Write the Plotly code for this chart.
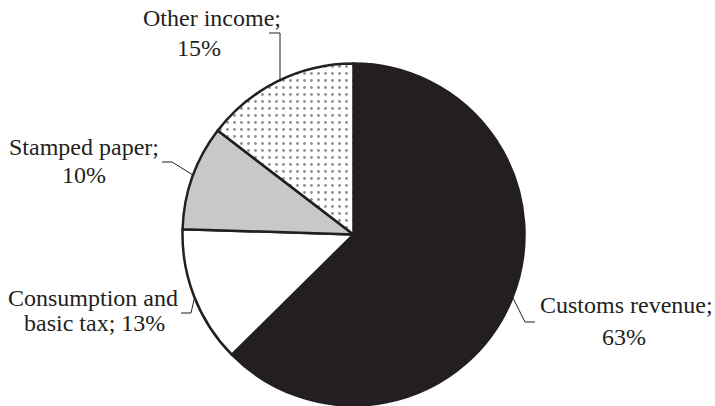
import plotly.graph_objects as go

W, H = 715, 406

categories = ["Customs revenue", "Consumption and basic tax", "Stamped paper", "Other income"]
shares = [62.6, 12.9, 9.9, 14.6]
label_lines = [
    ["Customs revenue;", "63%"],
    ["Consumption and", "basic tax; 13%"],
    ["Stamped paper;", "10%"],
    ["Other income;", "15%"],
]
colors = ["#231f20", "#ffffff", "#c8c8ca", "#ffffff"]
patterns = ["", "", "", "."]

def px(x, y):
    return x / W, 1 - y / H

fig = go.Figure(go.Pie(
    labels=categories,
    values=shares,
    sort=False,
    direction="clockwise",
    rotation=0,
    textinfo="none",
    hoverinfo="label+percent",
    marker=dict(
        colors=colors,
        line=dict(color="#231f20", width=2.5),
        pattern=dict(shape=patterns, fgcolor="#231f20", size=7, solidity=0.13, fillmode="overlay"),
    ),
    domain=dict(x=[(353.5 - 171) / W, (353.5 + 171) / W], y=[0.0, 1 - 63 / H]),
    showlegend=False,
))

label_pos = [
    [(626, 305), (624, 337)],
    [(93, 298), (94, 323)],
    [(84, 147), (84, 175)],
    [(212, 18), (199, 48)],
]
FONT = "Liberation Serif, 'Times New Roman', Times, serif"
annotations = []
for lines, poss in zip(label_lines, label_pos):
    for t, (x, y) in zip(lines, poss):
        ax, ay = px(x, y)
        annotations.append(dict(
            x=ax, y=ay, xref="paper", yref="paper", text=t, showarrow=False,
            xanchor="center", yanchor="middle",
            font=dict(family=FONT, size=24, color="#231f20"),
        ))

leaders = [
    [(513, 298), (525, 322), (535, 322)],
    [(181, 313), (191, 313), (194.5, 298)],
    [(162, 162), (172, 162), (193, 175)],
    [(269, 33), (280, 33), (280, 82)],
]
shapes = []
for pts in leaders:
    d = ""
    for i, (x, y) in enumerate(pts):
        a, b = px(x, y)
        d += ("M" if i == 0 else " L") + f" {a:.5f} {b:.5f}"
    shapes.append(dict(type="path", path=d, xref="paper", yref="paper",
                       line=dict(color="#231f20", width=1)))

fig.update_layout(
    width=W, height=H,
    margin=dict(l=0, r=0, t=0, b=0),
    paper_bgcolor="white", plot_bgcolor="white",
    font=dict(family=FONT),
    annotations=annotations, shapes=shapes,
)

fig.write_html("out.html")
